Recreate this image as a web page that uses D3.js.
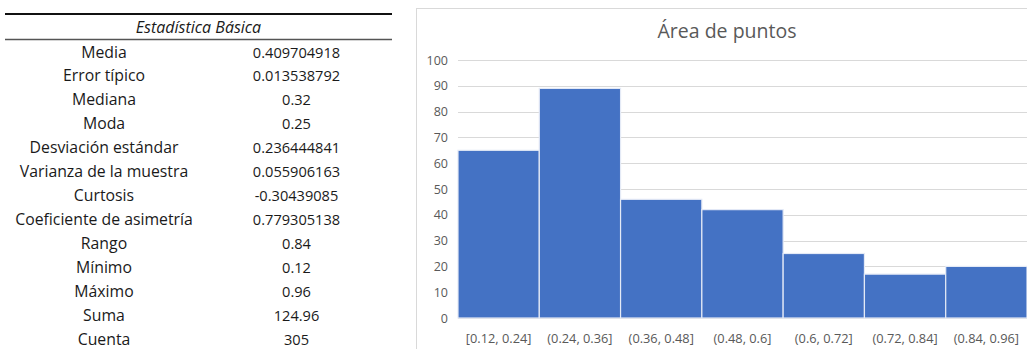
<!DOCTYPE html>
<html><head><meta charset="utf-8">
<script src="https://cdn.jsdelivr.net/npm/d3@7"></script>
<style>html,body{margin:0;padding:0;background:#fff;overflow:hidden}</style>
</head><body>
<svg id="c" width="1027" height="349"></svg>
<script>
const statLabels = ["Media","Error típico","Mediana","Moda","Desviación estándar","Varianza de la muestra","Curtosis","Coeficiente de asimetría","Rango","Mínimo","Máximo","Suma","Cuenta"];
const statValues = ["0.409704918","0.013538792","0.32","0.25","0.236444841","0.055906163","-0.30439085","0.779305138","0.84","0.12","0.96","124.96","305"];
const tableTitle = "Estadística Básica";
const chartTitle = "Área de puntos";
const bins = ["[0.12, 0.24]","(0.24, 0.36]","(0.36, 0.48]","(0.48, 0.6]","(0.6, 0.72]","(0.72, 0.84]","(0.84, 0.96]"];
const counts = [65, 89, 46, 42, 25, 17, 20];
const yTicks = [0,10,20,30,40,50,60,70,80,90,100];

const svg = d3.select("#c");
const FONT = "'Open Sans', sans-serif";

// ---- Table ----
const tbl = svg.append("g");
tbl.append("line").attr("x1",5).attr("x2",392).attr("y1",14).attr("y2",14)
  .attr("stroke","#111").attr("stroke-width",2);
tbl.append("line").attr("x1",5).attr("x2",392).attr("y1",39.5).attr("y2",39.5)
  .attr("stroke","#555").attr("stroke-width",1.3);
tbl.append("text").attr("x",198.5).attr("y",33).attr("text-anchor","middle")
  .attr("font-family",FONT).attr("font-size",16).attr("font-style","italic")
  .attr("fill","#1a1a1a").text(tableTitle);
const rowY = d3.scaleLinear().domain([0,12]).range([57.5,344.5]);
tbl.selectAll("text.lab").data(statLabels).join("text").attr("class","lab")
  .attr("x",104).attr("y",(d,i)=>rowY(i)).attr("text-anchor","middle")
  .attr("font-family",FONT).attr("font-size",15.8).attr("fill","#1a1a1a").text(d=>d);
tbl.selectAll("text.val").data(statValues).join("text").attr("class","val")
  .attr("x",296.5).attr("y",(d,i)=>rowY(i)).attr("text-anchor","middle")
  .attr("font-family",FONT).attr("font-size",14.6).attr("fill","#1a1a1a").text(d=>d);

// ---- Chart ----
svg.append("rect").attr("x",416.5).attr("y",8.5).attr("width",640).attr("height",360)
  .attr("fill","#fff").attr("stroke","#d9d9d9").attr("stroke-width",1);

svg.append("text").attr("x",727).attr("y",38).attr("text-anchor","middle")
  .attr("font-family",FONT).attr("font-size",19.5).attr("fill","#595959").text(chartTitle);

const x = d3.scaleBand().domain(bins).range([458,1027]).padding(0);
const y = d3.scaleLinear().domain([0,100]).range([318,60]);

const grid = svg.append("g");
grid.selectAll("line").data(yTicks).join("line")
  .attr("x1",458).attr("x2",1027)
  .attr("y1",d=>Math.round(y(d))+0.5).attr("y2",d=>Math.round(y(d))+0.5)
  .attr("stroke","#d9d9d9").attr("stroke-width",1);

const yAxis = d3.axisLeft(y).tickValues(yTicks).tickSize(0).tickPadding(0);
const ya = svg.append("g").attr("transform","translate(448,0)").call(yAxis);
ya.select(".domain").remove();
ya.selectAll("text").attr("font-family",FONT).attr("font-size",12.5).attr("fill","#595959");

svg.append("g").selectAll("rect").data(counts).join("rect")
  .attr("x",(d,i)=>x(bins[i])).attr("width",x.bandwidth())
  .attr("y",d=>y(d)).attr("height",d=>y(0)-y(d))
  .attr("fill","#4472c4").attr("stroke","#e4eaf6").attr("stroke-width",1.2);

const xAxis = d3.axisBottom(x).tickSize(0).tickPadding(0);
const xa = svg.append("g").attr("transform","translate(0,334)").call(xAxis);
xa.select(".domain").remove();
xa.selectAll("text").attr("font-family",FONT).attr("font-size",12.8).attr("fill","#595959");
</script>
</body></html>
